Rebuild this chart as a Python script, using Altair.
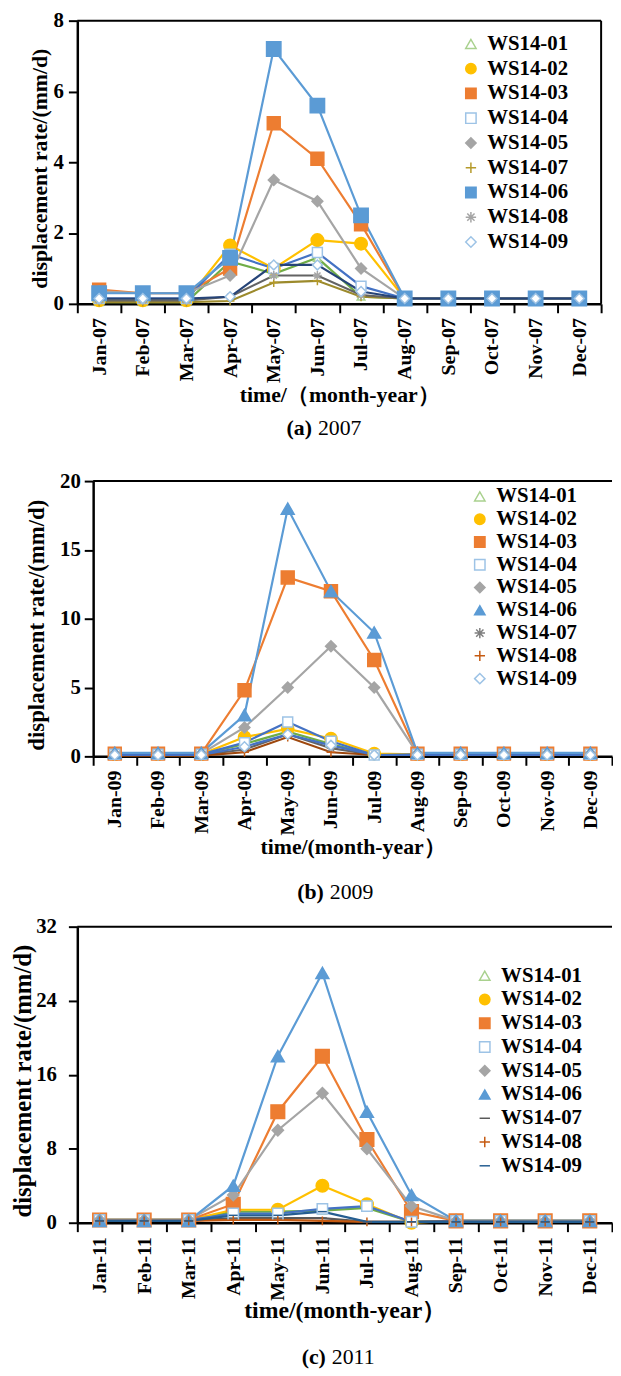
import altair as alt
import pandas as pd

months = ["Jan", "Feb", "Mar", "Apr", "May", "Jun", "Jul", "Aug", "Sep", "Oct", "Nov", "Dec"]
years = ["07", "09", "11"]
captions = [("(a)", "2007"), ("(b)", "2009"), ("(c)", "2011")]
x_titles = ["time/（month-year）", "time/(month-year）", "time/(month-year）"]
y_title = "displacement rate/(mm/d)"
y_ticks = [[0, 2, 4, 6, 8], [0, 5, 10, 15, 20], [0, 8, 16, 24, 32]]

order_a = ["WS14-01", "WS14-02", "WS14-03", "WS14-04", "WS14-05", "WS14-07", "WS14-06", "WS14-08", "WS14-09"]
order_bc = ["WS14-01", "WS14-02", "WS14-03", "WS14-04", "WS14-05", "WS14-06", "WS14-07", "WS14-08", "WS14-09"]

# 2007
v07_01 = [0.05, 0.05, 0.05, 1.2, 0.85, 1.3, 0.2, 0.15, 0.15, 0.15, 0.15, 0.15]
v07_02 = [0.1, 0.1, 0.1, 1.65, 1.0, 1.8, 1.7, 0.15, 0.15, 0.15, 0.15, 0.15]
v07_03 = [0.4, 0.3, 0.3, 1.0, 5.1, 4.1, 2.25, 0.15, 0.15, 0.15, 0.15, 0.15]
v07_04 = [0.15, 0.15, 0.15, 1.4, 1.0, 1.45, 0.5, 0.15, 0.15, 0.15, 0.15, 0.15]
v07_05 = [0.35, 0.3, 0.3, 0.8, 3.5, 2.9, 1.0, 0.15, 0.15, 0.15, 0.15, 0.15]
v07_06 = [0.3, 0.3, 0.3, 1.3, 7.2, 5.6, 2.5, 0.15, 0.15, 0.15, 0.15, 0.15]
v07_07 = [0.05, 0.05, 0.05, 0.08, 0.6, 0.65, 0.2, 0.15, 0.15, 0.15, 0.15, 0.15]
v07_08 = [0.1, 0.1, 0.1, 0.2, 0.8, 0.8, 0.25, 0.15, 0.15, 0.15, 0.15, 0.15]
v07_09 = [0.15, 0.15, 0.15, 0.2, 1.1, 1.1, 0.35, 0.15, 0.15, 0.15, 0.15, 0.15]

# 2009
v09_01 = [0.15, 0.15, 0.15, 0.9, 1.8, 0.9, 0.1, 0.15, 0.15, 0.15, 0.15, 0.15]
v09_02 = [0.15, 0.15, 0.15, 1.4, 2.0, 1.3, 0.2, 0.15, 0.15, 0.15, 0.15, 0.15]
v09_03 = [0.2, 0.2, 0.2, 4.8, 13.0, 12.0, 7.0, 0.2, 0.2, 0.2, 0.2, 0.2]
v09_04 = [0.15, 0.15, 0.15, 1.0, 2.5, 1.1, 0.1, 0.15, 0.15, 0.15, 0.15, 0.15]
v09_05 = [0.2, 0.2, 0.2, 2.1, 5.0, 8.0, 5.0, 0.2, 0.2, 0.2, 0.2, 0.2]
v09_06 = [0.25, 0.25, 0.25, 3.0, 18.0, 12.0, 9.0, 0.25, 0.25, 0.25, 0.25, 0.25]
v09_07 = [0.1, 0.1, 0.1, 0.5, 1.6, 0.6, 0.1, 0.1, 0.1, 0.1, 0.1, 0.1]
v09_08 = [0.05, 0.05, 0.05, 0.3, 1.4, 0.3, 0.1, 0.1, 0.1, 0.1, 0.1, 0.1]
v09_09 = [0.1, 0.1, 0.1, 0.7, 1.6, 0.8, 0.1, 0.1, 0.1, 0.1, 0.1, 0.1]

# 2011
v11_01 = [0.3, 0.3, 0.3, 1.2, 1.2, 1.3, 1.6, 0.1, 0.2, 0.2, 0.2, 0.2]
v11_02 = [0.3, 0.3, 0.3, 1.4, 1.4, 4.0, 2.0, 0.0, 0.2, 0.2, 0.2, 0.2]
v11_03 = [0.3, 0.3, 0.3, 2.0, 12.0, 18.0, 9.0, 1.2, 0.2, 0.2, 0.2, 0.2]
v11_04 = [0.3, 0.3, 0.3, 1.0, 1.0, 1.5, 1.8, 0.1, 0.2, 0.2, 0.2, 0.2]
v11_05 = [0.3, 0.3, 0.3, 3.0, 10.0, 14.0, 8.0, 1.8, 0.2, 0.2, 0.2, 0.2]
v11_06 = [0.2, 0.2, 0.2, 4.0, 18.0, 27.0, 12.0, 3.0, 0.2, 0.2, 0.2, 0.2]
v11_07 = [0.2, 0.2, 0.2, 0.5, 0.5, 0.5, 0.1, 0.1, 0.1, 0.1, 0.1, 0.1]
v11_08 = [0.2, 0.2, 0.2, 0.3, 0.3, 0.2, 0.1, 0.1, 0.1, 0.1, 0.1, 0.1]
v11_09 = [0.2, 0.2, 0.2, 0.8, 0.8, 1.2, 0.1, 0.1, 0.1, 0.1, 0.1, 0.1]

values = [
    {"WS14-01": v07_01, "WS14-02": v07_02, "WS14-03": v07_03, "WS14-04": v07_04, "WS14-05": v07_05,
     "WS14-06": v07_06, "WS14-07": v07_07, "WS14-08": v07_08, "WS14-09": v07_09},
    {"WS14-01": v09_01, "WS14-02": v09_02, "WS14-03": v09_03, "WS14-04": v09_04, "WS14-05": v09_05,
     "WS14-06": v09_06, "WS14-07": v09_07, "WS14-08": v09_08, "WS14-09": v09_09},
    {"WS14-01": v11_01, "WS14-02": v11_02, "WS14-03": v11_03, "WS14-04": v11_04, "WS14-05": v11_05,
     "WS14-06": v11_06, "WS14-07": v11_07, "WS14-08": v11_08, "WS14-09": v11_09},
]
orders = [order_a, order_bc, order_bc]

# ---------- styles ----------
PLUS = "M-1,0H1M0,-1V1"
STAR = "M-1,0H1M0,-1V1M-0.7,-0.7L0.7,0.7M-0.7,0.7L0.7,-0.7"
DASH = "M-1,0H1"
NONE = "transparent"

# series: (line color, marker shape, marker fill, marker stroke, marker size)
style_a = {
    "WS14-01": ("#70AD47", "triangle-up", "white", "#A9D18E", 60),
    "WS14-02": ("#FFC000", "circle", "#FFC000", "#FFC000", 160),
    "WS14-03": ("#ED7D31", "square", "#ED7D31", "#ED7D31", 170),
    "WS14-04": ("#4472C4", "square", "white", "#9DC3E6", 100),
    "WS14-05": ("#A5A5A5", "diamond", "#A5A5A5", "#A5A5A5", 120),
    "WS14-07": ("#9C8A2C", PLUS, NONE, "#B59A2A", 80),
    "WS14-06": ("#5B9BD5", "square", "#5B9BD5", "#5B9BD5", 210),
    "WS14-08": ("#636363", STAR, NONE, "#A5A5A5", 80),
    "WS14-09": ("#264478", "diamond", "white", "#9DC3E6", 100),
}
style_b = {
    "WS14-01": ("#70AD47", "triangle-up", "white", "#A9D18E", 60),
    "WS14-02": ("#FFC000", "circle", "#FFC000", "#FFC000", 150),
    "WS14-03": ("#ED7D31", "square", "#ED7D31", "#ED7D31", 170),
    "WS14-04": ("#4472C4", "square", "white", "#9DC3E6", 100),
    "WS14-05": ("#A5A5A5", "diamond", "#A5A5A5", "#A5A5A5", 120),
    "WS14-06": ("#5B9BD5", "triangle-up", "#5B9BD5", "#5B9BD5", 170),
    "WS14-07": ("#636363", STAR, NONE, "#7F7F7F", 80),
    "WS14-08": ("#9E480E", PLUS, NONE, "#C55A11", 80),
    "WS14-09": ("#4472C4", "diamond", "white", "#9DC3E6", 100),
}
style_c = {
    "WS14-01": ("#70AD47", "triangle-up", "white", "#A9D18E", 60),
    "WS14-02": ("#FFC000", "circle", "#FFC000", "#FFC000", 160),
    "WS14-03": ("#ED7D31", "square", "#ED7D31", "#ED7D31", 190),
    "WS14-04": ("#4472C4", "square", "white", "#9DC3E6", 110),
    "WS14-05": ("#A5A5A5", "diamond", "#A5A5A5", "#A5A5A5", 130),
    "WS14-06": ("#5B9BD5", "triangle-up", "#5B9BD5", "#5B9BD5", 170),
    "WS14-07": ("#595959", DASH, NONE, "#595959", 80),
    "WS14-08": ("#C55A11", PLUS, NONE, "#C55A11", 80),
    "WS14-09": ("#255E91", DASH, NONE, "#255E91", 80),
}
styles = [style_a, style_b, style_c]

FONT = "Liberation Serif"

# layout per panel (pixels)
panel = [
    dict(width=529, height=286, r0=0, r1=529, yoff=0, right=True, legx=387, legy=13, rowpad=3,
         ytx=-38, tY=92, capx=237, capy=411, ext=444, lpad=5, ytsize=22, xtsize=22),
    dict(width=540, height=278, r0=16, r1=540, yoff=-16, right=False, legx=396, legy=5, rowpad=1,
         ytx=-57, tY=91, capx=249, capy=415, ext=429, lpad=4, ytsize=23, xtsize=22),
    dict(width=540, height=299, r0=0, r1=540, yoff=0, right=False, legx=401, legy=39, rowpad=2,
         ytx=-55, tY=89, capx=251, capy=435, ext=440, lpad=12, ytsize=25, xtsize=24),
]


def make_panel(i):
    P = panel[i]
    order = orders[i]
    st = styles[i]
    labels = [f"{m}-{years[i]}" for m in months]
    rows = []
    for s in order:
        for m, v in zip(labels, values[i][s]):
            rows.append({"month": m, "series": s, "value": v, "lc": st[s][0], "sz": st[s][4]})
    df = pd.DataFrame(rows)
    ymax = y_ticks[i][-1]

    xenc = alt.X(
        "month:N", sort=labels,
        scale=alt.Scale(type="band", domain=labels, range=[P["r0"], P["r1"]], paddingInner=0, paddingOuter=0),
        axis=alt.Axis(title=x_titles[i], labelAngle=-90, labelAlign="right", labelBaseline="middle",
                      tickBand="extent", tickSize=9, tickWidth=2, labelPadding=5,
                      labelFontSize=20, titleFontSize=P["xtsize"], titleY=P["tY"], titleBaseline="middle"),
    )
    yenc = alt.Y(
        "value:Q",
        scale=alt.Scale(domain=[0, ymax], nice=False, zero=True),
        axis=alt.Axis(title=y_title, values=y_ticks[i], tickSize=9, tickWidth=2, grid=False,
                      labelPadding=P["lpad"], labelFontSize=21, offset=P["yoff"],
                      titleFontSize=P["ytsize"], titleX=P["ytx"], titleY=P["height"] / 2 + 6,
                      titleBaseline="middle", titleAngle=270),
    )

    base = alt.Chart(df)
    lines = base.mark_line(strokeWidth=2.2).encode(
        x=xenc, y=yenc,
        color=alt.Color("lc:N", scale=None),
        detail="series:N",
    )
    legend = alt.Legend(
        title=None, orient="none", legendX=P["legx"], legendY=P["legy"], padding=0,
        labelFont=FONT, labelFontSize=21, labelFontWeight="bold", labelColor="black",
        symbolSize=110, symbolStrokeWidth=1.5, symbolOpacity=1, rowPadding=P["rowpad"], labelOffset=6,
    )
    pts = base.mark_point(strokeWidth=1.5, opacity=1).encode(
        x=xenc, y=yenc,
        shape=alt.Shape("series:N", scale=alt.Scale(domain=order, range=[st[s][1] for s in order]), legend=legend),
        fill=alt.Fill("series:N", scale=alt.Scale(domain=order, range=[st[s][2] for s in order]), legend=legend),
        stroke=alt.Stroke("series:N", scale=alt.Scale(domain=order, range=[st[s][3] for s in order]), legend=legend),
        size=alt.Size("sz:Q", scale=None),
    )

    one = alt.Data(values=[{"a": captions[i][0], "b": captions[i][1]}])
    top = alt.Chart(one).mark_rule(color="black", strokeWidth=2).encode(
        x=alt.value(P["r0"]), x2=alt.value(P["width"]), y=alt.value(0))
    layers = [lines, pts, top]
    if P["right"]:
        layers.append(alt.Chart(one).mark_rule(color="black", strokeWidth=2).encode(
            x=alt.value(P["width"]), y=alt.value(0), y2=alt.value(P["height"])))
    cap1 = alt.Chart(one).mark_text(font=FONT, fontSize=22, fontWeight="bold", align="right",
                                    baseline="middle", color="black").encode(
        x=alt.value(P["capx"]), y=alt.value(P["capy"]), text="a:N")
    cap2 = alt.Chart(one).mark_text(font=FONT, fontSize=22, fontWeight="normal", align="left",
                                    baseline="middle", color="black").encode(
        x=alt.value(P["capx"] + 6), y=alt.value(P["capy"]), text="b:N")
    ext = alt.Chart(one).mark_rule(opacity=0, strokeOpacity=0).encode(
        x=alt.value(0), x2=alt.value(10), y=alt.value(P["ext"]))
    layers += [cap1, cap2, ext]
    return alt.layer(*layers).properties(width=P["width"], height=P["height"])


chart = alt.vconcat(make_panel(0), make_panel(1), make_panel(2), spacing=10).resolve_scale(
    x="independent", y="independent", fill="independent",
    stroke="independent", shape="independent",
).resolve_legend(
    shape="independent", fill="independent", stroke="independent"
).properties(
    padding={"left": 2, "top": -5, "right": 0, "bottom": 0}, background="white"
).configure_view(stroke=None).configure_axis(
    labelFont=FONT, titleFont=FONT, labelFontWeight="bold", titleFontWeight="bold",
    labelColor="black", titleColor="black", domainColor="black", tickColor="black",
    domainWidth=2.5,
)

chart.save("out.html", embed_options={"renderer": "svg", "actions": False})
